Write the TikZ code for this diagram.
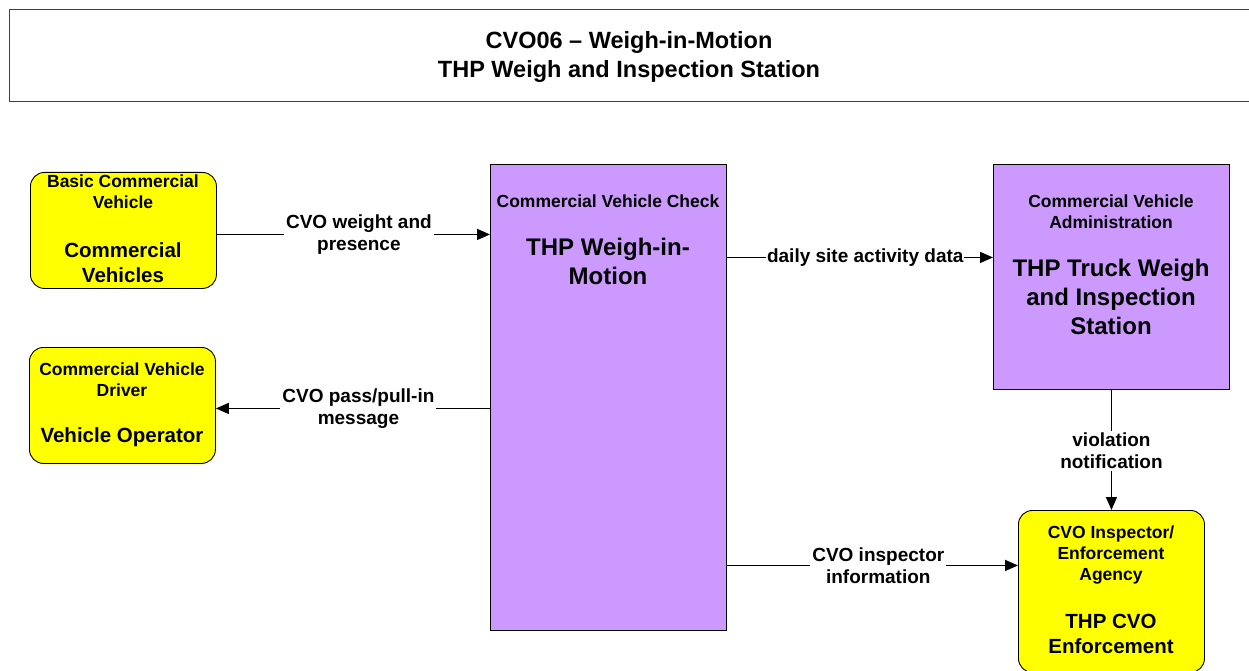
\documentclass[tikz,border=0pt]{standalone}
\usepackage{fontspec}
\setmainfont{Liberation Sans}
\usetikzlibrary{arrows.meta}
\definecolor{boxyellow}{RGB}{255,255,0}
\definecolor{boxpurple}{RGB}{204,153,255}
\tikzset{
  ybox/.style={draw=black, line width=0.9pt, fill=boxyellow, rounded corners=14pt, anchor=north west, inner sep=0pt},
  pbox/.style={draw=black, line width=0.9pt, fill=boxpurple, anchor=north west, inner sep=0pt},
  smalltxt/.style={font=\bfseries\fontsize{17.5}{21}\selectfont, align=center, inner sep=0pt},
  bigtxt/.style={font=\bfseries\fontsize{20.5}{25}\selectfont, align=center, inner sep=0pt},
  hugetxt/.style={font=\bfseries\fontsize{24}{29}\selectfont, align=center, inner sep=0pt},
  lbl/.style={font=\bfseries\fontsize{19}{22}\selectfont, align=center, fill=white, inner sep=2pt},
  flow/.style={draw=black, line width=1.5pt, -{Triangle[length=13pt,width=11pt]}},
}
\begin{document}
\begin{tikzpicture}[x=1pt,y=-1pt]
\useasboundingbox (0,0) rectangle (1249,671);
% title
\node[draw=black!75, line width=0.9pt, anchor=north west, minimum width=1260pt, minimum height=92pt, inner sep=0pt] (titlebox) at (9,9) {};
\node[hugetxt, font=\bfseries\fontsize{23.5}{29}\selectfont] (title) at (629,57) {CVO06 -- Weigh-in-Motion\\THP Weigh and Inspection Station};
% boxes
\node[ybox, minimum width=186pt, minimum height=116pt] (cv) at (30,172) {};
\node[ybox, minimum width=186pt, minimum height=116pt] (op) at (29,347) {};
\node[pbox, minimum width=236pt, minimum height=466pt] (wim) at (490,164) {};
\node[pbox, minimum width=236pt, minimum height=225pt] (truck) at (993,164) {};
\node[ybox, minimum width=186pt, minimum height=162pt] (enf) at (1018,510) {};
% texts
\node[smalltxt] (cvs) at (123,191.5) {Basic Commercial\\Vehicle};
\node[bigtxt] (cvb) at (123,263) {Commercial\\Vehicles};
\node[smalltxt] (ops) at (122,379.5) {Commercial Vehicle\\Driver};
\node[bigtxt] (opb) at (122,437) {Vehicle Operator};
\node[smalltxt] (wims) at (608,201) {Commercial Vehicle Check};
\node[hugetxt] (wimb) at (608,261) {THP Weigh-in-\\Motion};
\node[smalltxt] (trs) at (1111,212) {Commercial Vehicle\\Administration};
\node[hugetxt] (trb) at (1111,297) {THP Truck Weigh\\and Inspection\\Station};
\node[smalltxt] (enfs) at (1111,555) {CVO Inspector/\\Enforcement\\Agency};
\node[bigtxt] (enfb) at (1111,634) {THP CVO\\Enforcement};
% connector anchor points
\coordinate (cvout) at ([yshift=-4pt]cv.east);
\coordinate (opin) at ([yshift=-3pt]op.east);
\coordinate (trin) at ([yshift=19.5pt]truck.west);
\coordinate (enfin) at ([yshift=26pt]enf.west);
% connectors
\draw[flow] (cvout) -- node[lbl, pos=0.52] (l1) {CVO weight and\\presence} (cvout -| wim.west);
\draw[flow] (opin -| wim.west) -- node[lbl, pos=0.48] (l2) {CVO pass/pull-in\\message} (opin);
\draw[flow] (trin -| wim.east) -- node[lbl, pos=0.52, inner sep=1pt] (l3) {daily site activity data} (trin);
\draw[flow] (truck.south) -- node[lbl, pos=0.51] (l4) {violation\\notification} (enf.north);
\draw[flow] (enfin -| wim.east) -- node[lbl, pos=0.52] (l5) {CVO inspector\\information} (enfin);
\end{tikzpicture}
\end{document}
